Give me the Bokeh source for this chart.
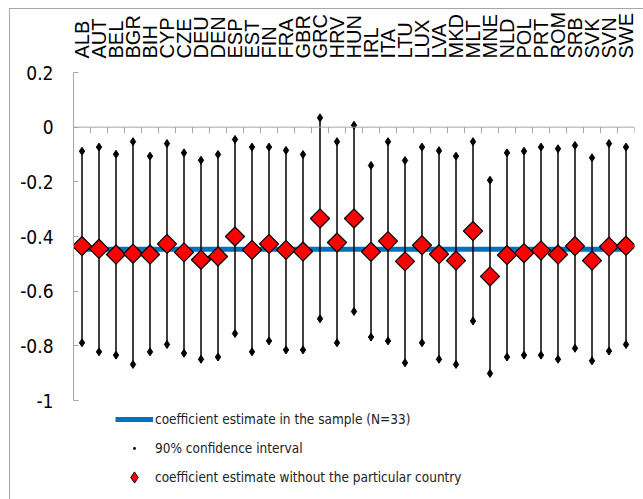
import math
from bokeh.plotting import figure
from bokeh.models import (Range1d, LinearAxis, FixedTicker, Legend, LegendItem,
                          ColumnDataSource, Span)
from bokeh.embed import file_html
from bokeh.resources import INLINE

countries = ["ALB", "AUT", "BEL", "BGR", "BIH", "CYP", "CZE", "DEU", "DEN", "ESP",
             "EST", "FIN", "FRA", "GBR", "GRC", "HRV", "HUN", "IRL", "ITA", "LTU",
             "LUX", "LVA", "MKD", "MLT", "MNE", "NLD", "POL", "PRT", "ROM", "SRB",
             "SVK", "SVN", "SWE"]

estimate_without = [-0.435, -0.445, -0.466, -0.463, -0.466, -0.427, -0.458, -0.485, -0.473, -0.400,
                    -0.449, -0.427, -0.449, -0.455, -0.334, -0.422, -0.334, -0.456, -0.417, -0.491,
                    -0.432, -0.465, -0.488, -0.380, -0.546, -0.468, -0.461, -0.451, -0.466, -0.435,
                    -0.488, -0.437, -0.434]

ci_upper = [-0.088, -0.073, -0.099, -0.053, -0.106, -0.060, -0.094, -0.121, -0.100, -0.045,
            -0.073, -0.073, -0.085, -0.100, 0.034, -0.053, 0.007, -0.140, -0.053, -0.122,
            -0.073, -0.086, -0.106, -0.053, -0.194, -0.094, -0.088, -0.073, -0.079, -0.067,
            -0.112, -0.060, -0.073]

ci_lower = [-0.789, -0.822, -0.834, -0.868, -0.822, -0.795, -0.827, -0.849, -0.841, -0.755,
            -0.822, -0.782, -0.815, -0.815, -0.701, -0.789, -0.674, -0.768, -0.782, -0.862,
            -0.789, -0.849, -0.868, -0.709, -0.901, -0.841, -0.834, -0.834, -0.849, -0.809,
            -0.855, -0.819, -0.795]

sample_coef = -0.447

y_ticks = [-1, -0.8, -0.6, -0.4, -0.2, 0, 0.2]
y_tick_labels = ["-1", "-0.8", "-0.6", "-0.4", "-0.2", "0", "0.2"]

legend_labels = ["coefficient estimate in the sample (N=33)",
                 "90% confidence interval",
                 "coefficient estimate without the particular country"]

NARROW = "'Liberation Sans Narrow', 'DejaVu Sans Condensed', Roboto, sans-serif"
REG = "Liberation Sans"
GREY = "#A6A6A6"

n = len(countries)
xs = list(range(n))

# frame: top 72px (0.2) ... -1 at 400px; frame extended to 495px to host the legend
px_per_unit = (400 - 72) / 1.2
y_bottom = 0.2 - (495 - 72) / px_per_unit

p = figure(width=643, height=499, output_backend="svg", toolbar_location=None,
           x_range=Range1d(-0.5, n - 0.5), y_range=Range1d(y_bottom, 0.2),
           x_axis_location=None, min_border_left=73, min_border_right=9,
           min_border_top=72, min_border_bottom=4)
p.grid.visible = False
p.outline_line_color = None
p.background_fill_alpha = 0
p.border_fill_alpha = 0
p.styles = {
    "background": ("linear-gradient(#A6A6A6, #A6A6A6) 9px 8px / 1px 100% no-repeat, "
                   "linear-gradient(#A6A6A6, #A6A6A6) 9px 8px / 100% 1px no-repeat, white"),
}

# y axis
yax = p.yaxis[0]
yax.ticker = FixedTicker(ticks=y_ticks)
yax.bounds = (-1, 0.2)
yax.major_label_overrides = {t: l for t, l in zip(y_ticks, y_tick_labels)}
yax.axis_line_color = GREY
yax.major_tick_line_color = GREY
yax.major_tick_in = 5
yax.major_tick_out = 0
yax.minor_tick_line_color = None
yax.major_label_standoff = 20
yax.major_label_text_font = NARROW
yax.major_label_text_font_size = "19px"
yax.major_label_text_color = "black"

# top category labels
top = LinearAxis(ticker=FixedTicker(ticks=xs),
                 major_label_overrides={i: c for i, c in enumerate(countries)},
                 major_label_orientation="vertical")
top.axis_line_color = None
top.major_tick_line_color = None
top.minor_tick_line_color = None
top.major_label_standoff = 8
top.major_label_text_font = REG
top.major_label_text_font_size = "20px"
top.major_label_text_color = "black"
p.add_layout(top, "above")

# axis line at zero with category-boundary ticks
p.add_layout(Span(location=0, dimension="width", line_color=GREY, line_width=1))
bounds = [i - 0.5 for i in range(n + 1)]
p.segment(x0=bounds, y0=[0] * len(bounds), x1=bounds, y1=[-0.022] * len(bounds),
          line_color=GREY, line_width=1)

src = ColumnDataSource(dict(x=xs, est=estimate_without, lo=ci_lower, hi=ci_upper,
                            base=[sample_coef] * n))

r_line = p.line("x", "base", source=src, line_color="#0070C0", line_width=5)
p.segment(x0="x", y0="lo", x1="x", y1="hi", source=src, line_color="black", line_width=1.5)
# small dot used as the legend glyph of the confidence interval (hidden under end markers)
r_ci_leg = p.scatter("x", "lo", source=src, marker="dot", size=3, color="black")
p.scatter("x", "lo", source=src, marker="diamond", size=8, color="black")
p.scatter("x", "hi", source=src, marker="diamond", size=8, color="black")
# diamond used as the legend glyph (hidden under the rotated squares)
r_est_leg = p.scatter("x", "est", source=src, marker="diamond", size=12,
                      fill_color="red", line_color="black", line_width=1)
p.scatter("x", "est", source=src, marker="square", angle=math.pi / 4, size=13.5,
          fill_color="red", line_color="black", line_width=1.2)

legend = Legend(items=[LegendItem(label=legend_labels[0], renderers=[r_line]),
                       LegendItem(label=legend_labels[1], renderers=[r_ci_leg]),
                       LegendItem(label=legend_labels[2], renderers=[r_est_leg])],
                location=(42, 4))
legend.padding = 0
legend.margin = 0
legend.spacing = 1
legend.border_line_color = None
legend.background_fill_alpha = 0
legend.glyph_width = 38
legend.glyph_height = 28
legend.label_height = 22
legend.label_standoff = 2
legend.label_text_font = NARROW
legend.label_text_font_size = "13.5px"
legend.label_text_color = "#222222"
p.add_layout(legend, "center")

open("out.html", "w").write(file_html(p, INLINE))
